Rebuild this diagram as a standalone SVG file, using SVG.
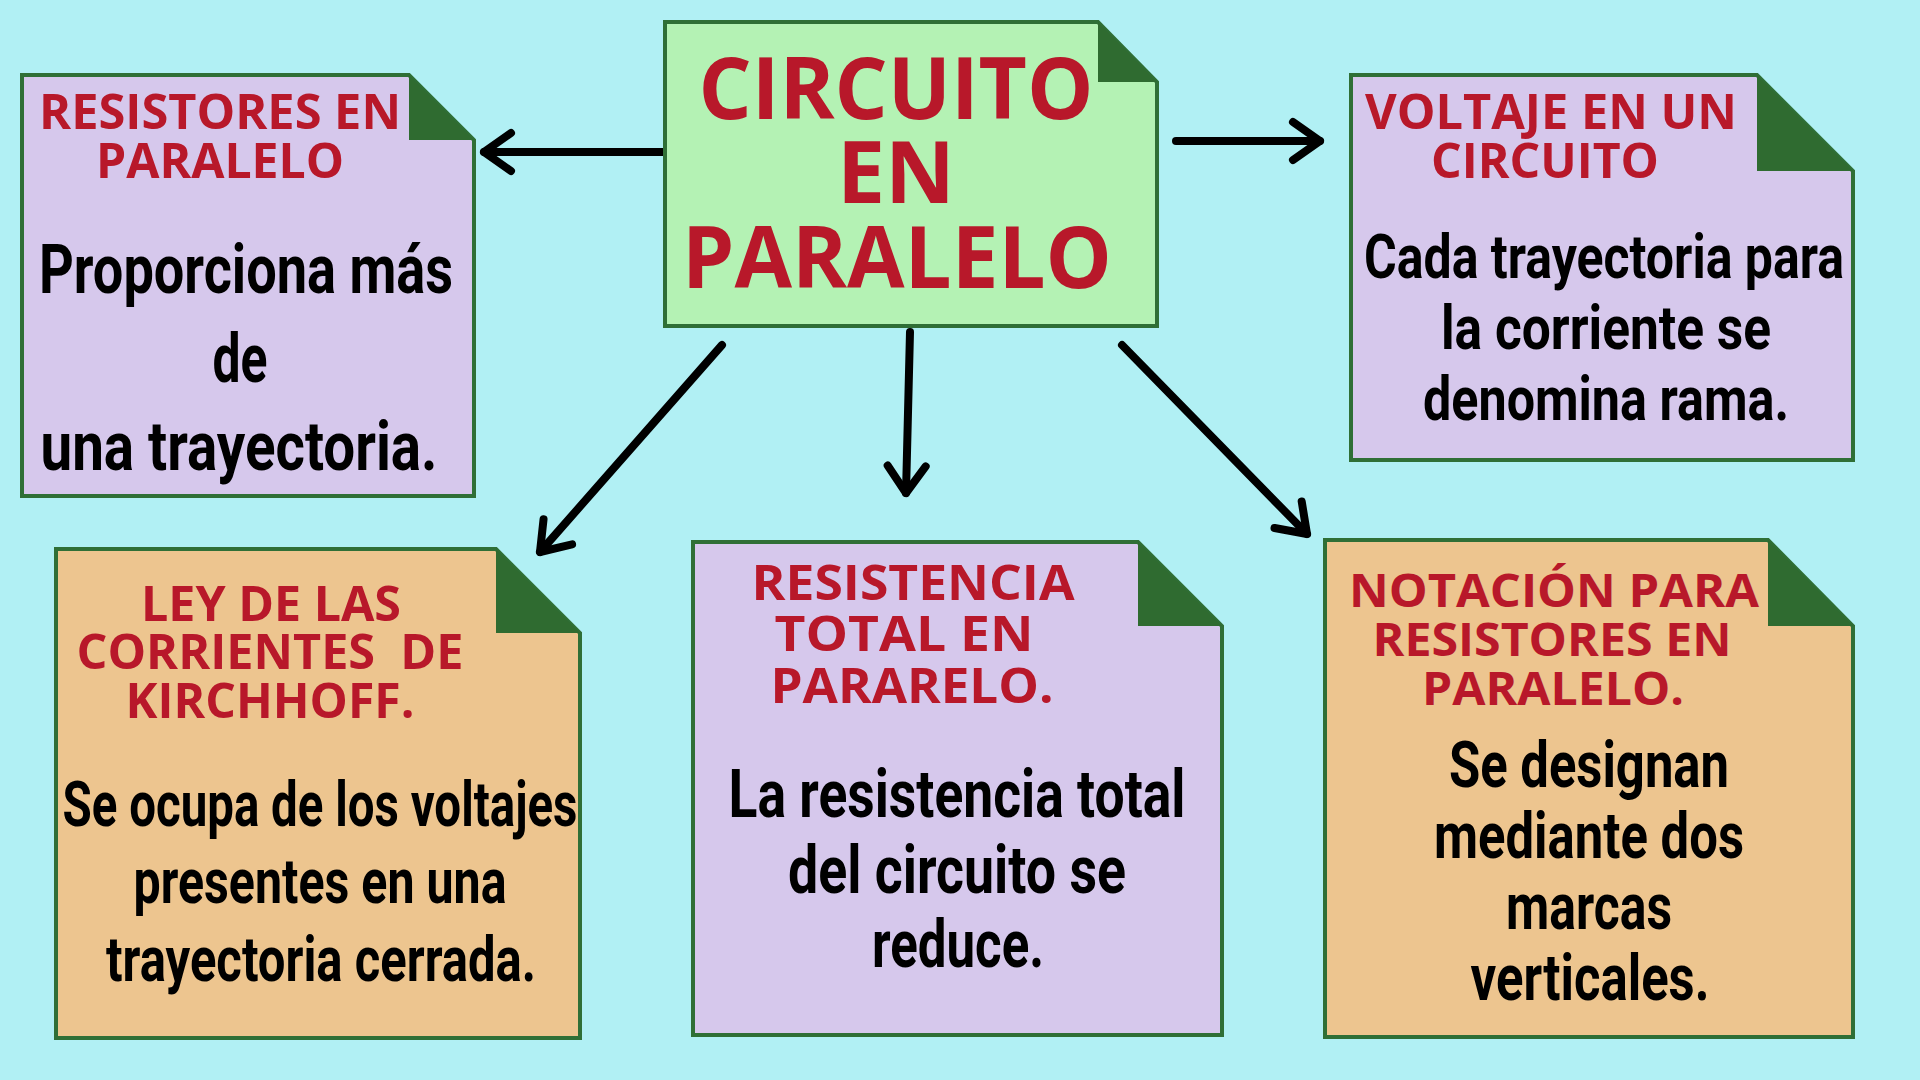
<svg xmlns="http://www.w3.org/2000/svg" width="1920" height="1080" viewBox="0 0 1920 1080">
<style>
.bg{fill:#B1F0F4}
.card{stroke:#2F6F36;stroke-width:4;stroke-linejoin:miter}
.purple{fill:#D6C8EC}
.orange{fill:#EDC58F}
.green{fill:#B4F2B4}
.fold{fill:#2F6B30}
.ttl{font-family:"Open Sans","Liberation Sans",sans-serif;font-weight:700;fill:#B8182A;text-anchor:middle;white-space:pre}
.body{font-family:"Liberation Sans Narrow","Roboto","Liberation Sans",sans-serif;font-weight:700;fill:#000;text-anchor:middle}
.conn{fill:none;stroke:#000;stroke-width:8;stroke-linecap:round}
</style>
<defs>
<marker id="ah" markerUnits="userSpaceOnUse" markerWidth="80" markerHeight="80" viewBox="-40 -40 80 80" refX="0" refY="0" orient="auto" overflow="visible">
<path d="M -27 -19 L 0 0 L -27 19" fill="none" stroke="#000" stroke-width="8" stroke-linecap="round" stroke-linejoin="round"/>
</marker>
</defs>
<rect class="bg" x="0" y="0" width="1920" height="1080"/>

<g id="connectors">
<line class="conn" x1="665" y1="152" x2="484" y2="152" marker-end="url(#ah)"/>
<line class="conn" x1="1176" y1="141" x2="1320" y2="141" marker-end="url(#ah)"/>
<line class="conn" x1="722" y1="345" x2="540" y2="552" marker-end="url(#ah)"/>
<line class="conn" x1="910" y1="332" x2="906" y2="493" marker-end="url(#ah)"/>
<line class="conn" x1="1122" y1="345" x2="1307" y2="534" marker-end="url(#ah)"/>
</g>

<g id="central">
<path class="card green" d="M665 22 H1098 L1157 82 V326 H665 Z"/>
<path class="fold" d="M1098 22 L1157 82 H1098 Z"/>
<text class="ttl" x="896" y="119" font-size="86" textLength="395" lengthAdjust="spacingAndGlyphs">CIRCUITO</text>
<text class="ttl" x="896" y="203" font-size="86">EN</text>
<text class="ttl" x="897" y="288" font-size="86" textLength="430" lengthAdjust="spacingAndGlyphs">PARALELO</text>
</g>

<g id="n-resistores">
<path class="card purple" d="M22 75 H409 L474 140 V496 H22 Z"/>
<path class="fold" d="M409 75 L474 140 H409 Z"/>
<text class="ttl" x="220" y="129" font-size="49" textLength="362" lengthAdjust="spacingAndGlyphs">RESISTORES EN</text>
<text class="ttl" x="220" y="178" font-size="49" textLength="248" lengthAdjust="spacingAndGlyphs">PARALELO</text>
<text class="body" x="246" y="293" font-size="69" textLength="414" lengthAdjust="spacingAndGlyphs">Proporciona más</text>
<text class="body" x="240" y="382" font-size="69" textLength="55" lengthAdjust="spacingAndGlyphs">de</text>
<text class="body" x="239" y="470" font-size="69" textLength="397" lengthAdjust="spacingAndGlyphs">una trayectoria.</text>
</g>

<g id="n-voltaje">
<path class="card purple" d="M1351 75 H1757 L1853 171 V460 H1351 Z"/>
<path class="fold" d="M1757 75 L1853 171 H1757 Z"/>
<text class="ttl" x="1551" y="129" font-size="49" textLength="372" lengthAdjust="spacingAndGlyphs">VOLTAJE EN UN</text>
<text class="ttl" x="1545" y="178" font-size="49" textLength="228" lengthAdjust="spacingAndGlyphs">CIRCUITO</text>
<text class="body" x="1604" y="278" font-size="62" textLength="480" lengthAdjust="spacingAndGlyphs">Cada trayectoria para</text>
<text class="body" x="1606" y="349" font-size="62" textLength="330" lengthAdjust="spacingAndGlyphs">la corriente se</text>
<text class="body" x="1606" y="420" font-size="62" textLength="366" lengthAdjust="spacingAndGlyphs">denomina rama.</text>
</g>

<g id="n-kirchhoff">
<path class="card orange" d="M56 549 H496 L580 633 V1038 H56 Z"/>
<path class="fold" d="M496 549 L580 633 H496 Z"/>
<text class="ttl" x="271" y="621" font-size="48" textLength="260" lengthAdjust="spacingAndGlyphs">LEY DE LAS</text>
<text class="ttl" x="270" y="669" font-size="48" textLength="387" lengthAdjust="spacingAndGlyphs">CORRIENTES&#160; DE</text>
<text class="ttl" x="270" y="718" font-size="48" textLength="289" lengthAdjust="spacingAndGlyphs">KIRCHHOFF.</text>
<text class="body" x="320" y="826" font-size="63" textLength="515" lengthAdjust="spacingAndGlyphs">Se ocupa de los voltajes</text>
<text class="body" x="320" y="903" font-size="63" textLength="373" lengthAdjust="spacingAndGlyphs">presentes en una</text>
<text class="body" x="321" y="981" font-size="63" textLength="430" lengthAdjust="spacingAndGlyphs">trayectoria cerrada.</text>
</g>

<g id="n-resistencia">
<path class="card purple" d="M693 542 H1138 L1222 626 V1035 H693 Z"/>
<path class="fold" d="M1138 542 L1222 626 H1138 Z"/>
<text class="ttl" x="913" y="600" font-size="49" textLength="323" lengthAdjust="spacingAndGlyphs">RESISTENCIA</text>
<text class="ttl" x="904" y="651" font-size="49" textLength="259" lengthAdjust="spacingAndGlyphs">TOTAL EN</text>
<text class="ttl" x="912" y="703" font-size="49" textLength="283" lengthAdjust="spacingAndGlyphs">PARARELO.</text>
<text class="body" x="957" y="817" font-size="66" textLength="457" lengthAdjust="spacingAndGlyphs">La resistencia total</text>
<text class="body" x="957" y="893" font-size="66" textLength="338" lengthAdjust="spacingAndGlyphs">del circuito se</text>
<text class="body" x="958" y="967" font-size="66" textLength="172" lengthAdjust="spacingAndGlyphs">reduce.</text>
</g>

<g id="n-notacion">
<path class="card orange" d="M1325 540 H1768 L1853 626 V1037 H1325 Z"/>
<path class="fold" d="M1768 540 L1853 626 H1768 Z"/>
<text class="ttl" x="1554" y="607" font-size="47" textLength="410" lengthAdjust="spacingAndGlyphs">NOTACIÓN PARA</text>
<text class="ttl" x="1552" y="656" font-size="47" textLength="359" lengthAdjust="spacingAndGlyphs">RESISTORES EN</text>
<text class="ttl" x="1553" y="705" font-size="47" textLength="262" lengthAdjust="spacingAndGlyphs">PARALELO.</text>
<text class="body" x="1589" y="787" font-size="64" textLength="280" lengthAdjust="spacingAndGlyphs">Se designan</text>
<text class="body" x="1589" y="858" font-size="64" textLength="310" lengthAdjust="spacingAndGlyphs">mediante dos</text>
<text class="body" x="1589" y="929" font-size="64" textLength="166" lengthAdjust="spacingAndGlyphs">marcas</text>
<text class="body" x="1590" y="1000" font-size="64" textLength="239" lengthAdjust="spacingAndGlyphs">verticales.</text>
</g>
</svg>
